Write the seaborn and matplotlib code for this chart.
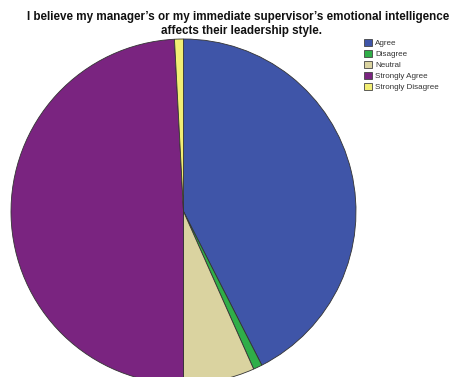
import matplotlib
matplotlib.use("Agg")
import matplotlib.pyplot as plt
import seaborn as sns
from matplotlib.patches import Patch

sns.set_theme(style="white")
plt.rcParams['font.family'] = ['Liberation Sans', 'DejaVu Sans']

categories = ["Agree", "Disagree", "Neutral", "Strongly Agree", "Strongly Disagree"]
counts = [51, 1, 8, 59, 1]
colors = ["#3F55A8", "#2FAE48", "#DAD3A0", "#7A2480", "#F2EE74"]
title_lines = ["I believe my manager\u2019s or my immediate supervisor\u2019s emotional intelligence",
               "affects their leadership style."]

fig = plt.figure(figsize=(4.62, 3.77), dpi=100)
fig.patch.set_facecolor("white")

W, H = 462, 377
cx, cy, r = 183.5, 211.5, 172.5
ax = fig.add_axes([(cx - r) / W, (H - cy - r) / H, 2 * r / W, 2 * r / H])
wedges, _ = ax.pie(counts, colors=colors, startangle=90, counterclock=False,
                   wedgeprops=dict(edgecolor="#333333", linewidth=0.6))
for w in wedges:
    w.set_clip_on(False)
ax.set_xlim(-1, 1)
ax.set_ylim(-1, 1)
ax.set_aspect("auto")
ax.axis("off")

fig.text(238 / W, 1 - 17 / H, title_lines[0], ha="center", va="center",
         fontsize=8.4, fontweight="bold", color="#111111")
fig.text(241 / W, 1 - 31 / H, title_lines[1], ha="center", va="center",
         fontsize=8.4, fontweight="bold", color="#111111")

handles = [Patch(facecolor=c, edgecolor="#444444", linewidth=0.6, label=l)
           for c, l in zip(colors, categories)]
fig.legend(handles=handles, loc="upper left", bbox_to_anchor=(364 / W, 1 - 39 / H),
           frameon=False, fontsize=5.8, handlelength=1.0, handleheight=1.0,
           handletextpad=0.4, labelspacing=0.33, borderpad=0, borderaxespad=0,
           labelcolor="#333333")

fig.savefig("out.png", dpi=100, facecolor="white")
